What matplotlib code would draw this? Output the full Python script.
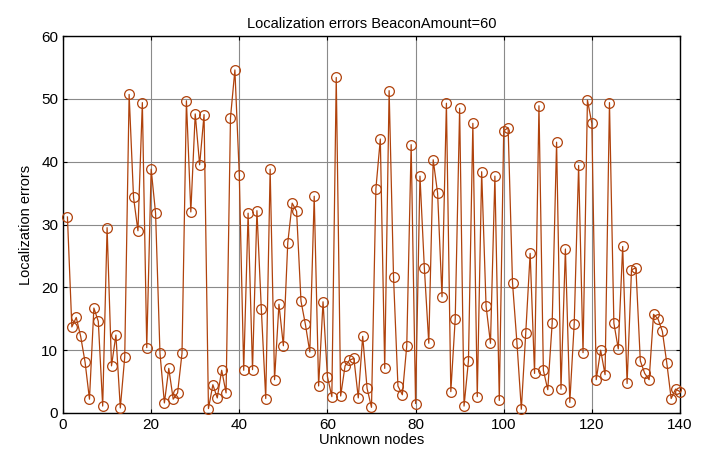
import matplotlib
matplotlib.use("Agg")
import matplotlib.pyplot as plt
import numpy as np

plt.rcParams['font.family'] = ['Liberation Sans', 'DejaVu Sans']

nodes = list(range(1, 141))
errors = [
    31.2, 13.7, 15.2, 12.2, 8.1, 2.2, 16.7, 14.6, 1.1, 29.5,
    7.5, 12.4, 0.8, 8.9, 50.7, 34.3, 29.0, 49.4, 10.4, 38.8,
    31.8, 9.5, 1.6, 7.1, 2.2, 3.2, 9.5, 49.7, 32.0, 47.6,
    39.5, 47.5, 0.7, 4.5, 2.4, 6.8, 3.2, 47.0, 54.6, 37.9,
    6.8, 31.8, 6.9, 32.2, 16.5, 2.3, 38.8, 5.3, 17.3, 10.7,
    27.1, 33.4, 32.1, 17.8, 14.1, 9.7, 34.5, 4.3, 17.7, 5.8,
    2.6, 53.4, 2.7, 7.5, 8.4, 8.7, 2.4, 12.2, 3.9, 0.9,
    35.7, 43.6, 7.1, 51.3, 21.6, 4.3, 2.9, 10.7, 42.7, 1.5,
    37.7, 23.0, 11.1, 40.3, 35.0, 18.5, 49.3, 3.4, 15.0, 48.5,
    1.1, 8.3, 46.1, 2.6, 38.4, 17.0, 11.1, 37.7, 2.0, 44.9,
    45.4, 20.7, 11.2, 0.6, 12.7, 25.4, 6.3, 48.9, 6.8, 3.7,
    14.3, 43.1, 3.8, 26.1, 1.7, 14.2, 39.4, 9.6, 49.8, 46.1,
    5.3, 10.0, 6.1, 49.4, 14.3, 10.2, 26.5, 4.7, 22.8, 23.1,
    8.3, 6.3, 5.3, 15.7, 15.0, 13.0, 8.0, 2.3, 3.8, 3.4,
]
xticks = [0, 20, 40, 60, 80, 100, 120, 140]
yticks = [0, 10, 20, 30, 40, 50, 60]

fig = plt.figure(figsize=(7.05, 4.57), dpi=100)
ax = fig.add_axes([0.0894, 0.0963, 0.8751, 0.8249])
color = "#B0420C"
ax.plot(nodes, errors, '-o', color=color, lw=0.9, markersize=7,
        markerfacecolor='none', markeredgecolor=color, markeredgewidth=0.9,
        clip_on=False, zorder=3)
ax.set_xlim(0, 140)
ax.set_ylim(0, 60)
ax.set_xticks(xticks)
ax.set_yticks(yticks)
ax.grid(True, color="#8a8a8a", lw=0.8, ls='-')
ax.set_axisbelow(True)
ax.tick_params(direction='in', top=True, right=True, labelsize=11, length=3)
for s in ax.spines.values():
    s.set_linewidth(1.0)
ax.set_title("Localization errors BeaconAmount=60", fontsize=10.5, pad=6)
ax.set_xlabel("Unknown nodes", fontsize=10.5, labelpad=1)
ax.set_ylabel("Localization errors", fontsize=10.5, labelpad=6)
fig.savefig("out.png", dpi=100)
